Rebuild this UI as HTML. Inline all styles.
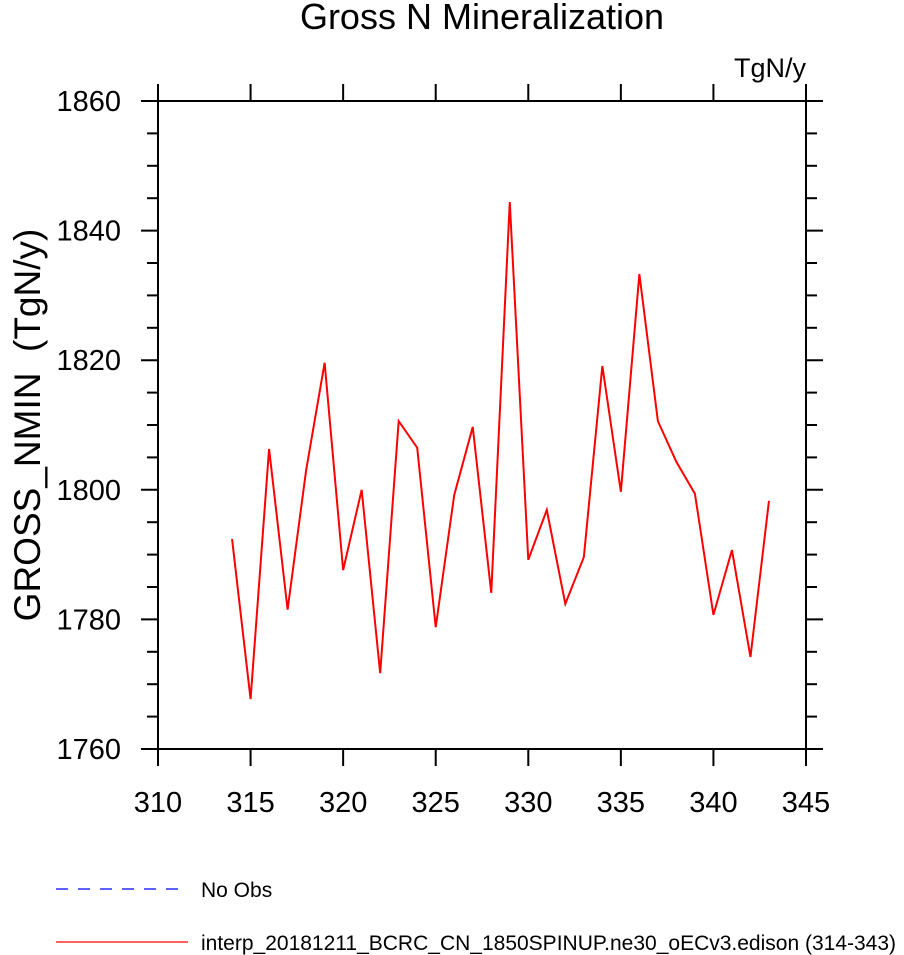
<!DOCTYPE html>
<html><head><meta charset="utf-8"><style>body{margin:0;background:#fff}svg{display:block}text{font-family:"Liberation Sans",sans-serif}</style></head>
<body>
<svg id="c" width="904" height="955">
<text x="482" y="29" font-size="36" text-anchor="middle">Gross N Mineralization</text>
<text x="806" y="77" font-size="27" text-anchor="end">TgN/y</text>
<text transform="translate(40,425) rotate(-90)" font-size="37" text-anchor="middle">GROSS_NMIN&#160;&#160;(TgN/y)</text>
<rect x="158" y="101" width="648" height="648" fill="none" stroke="#000" stroke-width="2"/>
<g id="ax"></g>
<g id="ser"></g>
<line x1="56" y1="889" x2="188" y2="889" stroke="#00f" stroke-width="1.3" stroke-dasharray="12,10"/>
<text x="201" y="897" font-size="21">No Obs</text>
<line x1="56" y1="942" x2="188" y2="942" stroke="#f00" stroke-width="1.3"/>
<text x="201" y="950" font-size="21">interp_20181211_BCRC_CN_1850SPINUP.ne30_oECv3.edison (314-343)</text>
</svg>
<script>
const years=[314,315,316,317,318,319,320,321,322,323,324,325,326,327,328,329,330,331,332,333,334,335,336,337,338,339,340,341,342,343];
const values=[1792.4,1767.7,1806.3,1781.5,1803,1819.6,1787.6,1800,1771.7,1810.6,1806.5,1778.8,1799.2,1809.7,1784.1,1844.4,1789.2,1796.9,1782.4,1789.6,1819.1,1799.7,1833.3,1810.6,1804.3,1799.4,1780.7,1790.7,1774.2,1798.3];
const xTicks=[310,315,320,325,330,335,340,345];
const yTicks=[1760,1780,1800,1820,1840,1860];
const X0=158,X1=806,Y0=749,Y1=101;
const sx=v=>X0+(v-310)/(345-310)*(X1-X0);
const sy=v=>Y0-(v-1760)/(1860-1760)*(Y0-Y1);
const NS="http://www.w3.org/2000/svg";
const ax=document.getElementById('ax'),ser=document.getElementById('ser');
function ln(p,x1,y1,x2,y2,name){const l=document.createElementNS(NS,'line');l.setAttribute('x1',x1);l.setAttribute('y1',y1);l.setAttribute('x2',x2);l.setAttribute('y2',y2);l.setAttribute('stroke','#000');l.setAttribute('stroke-width','2');


p.appendChild(l);}
xTicks.forEach(v=>{const x=sx(v);ln(ax,x,Y0,x,Y0+17,'x-tick');ln(ax,x,Y1,x,Y1-17,'x-tick-top');
const t=document.createElementNS(NS,'text');t.setAttribute('x',x);t.setAttribute('y',812);t.setAttribute('font-size','29');t.setAttribute('text-anchor','middle');t.textContent=v;


ax.appendChild(t);});
for(let v=1760;v<=1860;v+=5){const y=sy(v);const maj=(v%20===0);const L=maj?17:11;ln(ax,X0,y,X0-L,y,maj?'y-tick':'y-minor-tick');ln(ax,X1,y,X1+L,y,maj?'y-tick-right':'y-minor-tick-right');}
yTicks.forEach(v=>{const t=document.createElementNS(NS,'text');t.setAttribute('x',121);t.setAttribute('y',sy(v)+10);t.setAttribute('font-size','29');t.setAttribute('text-anchor','end');t.textContent=v;


ax.appendChild(t);});
const pl=document.createElementNS(NS,'polyline');
pl.setAttribute('points',years.map((y,i)=>sx(y)+','+sy(values[i])).join(' '));
pl.setAttribute('fill','none');pl.setAttribute('stroke','#f00');pl.setAttribute('stroke-width','2');


ser.appendChild(pl);
</script>
</body></html>
